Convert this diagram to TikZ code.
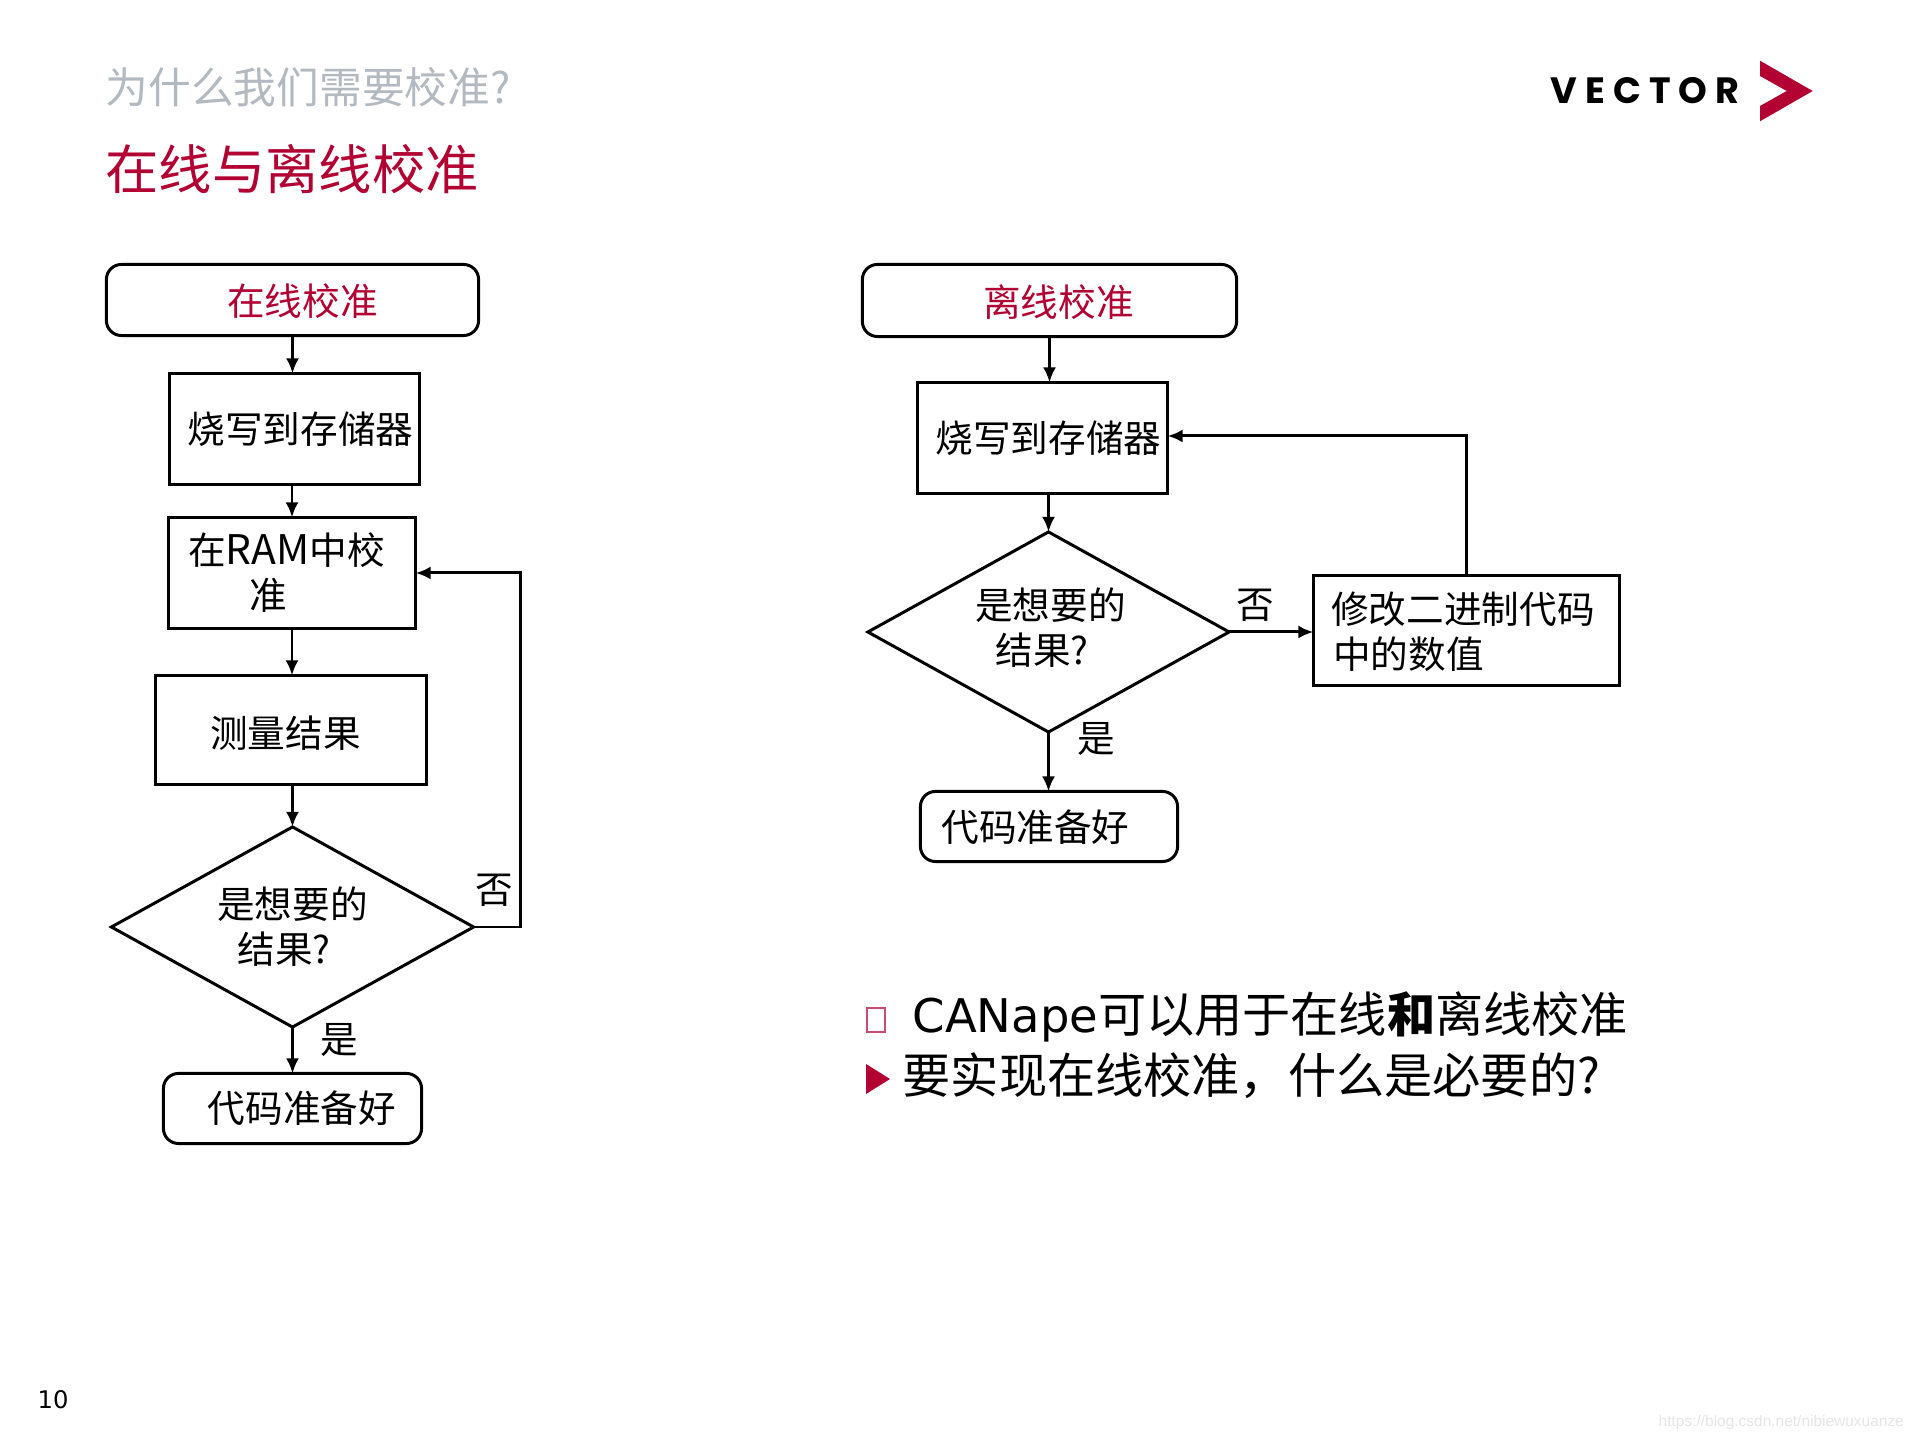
\documentclass[tikz,border=0pt]{standalone}
\usepackage{fontspec}
\usepackage{xcolor}
\usetikzlibrary{arrows.meta,shapes.geometric}
\setmainfont{Noto Sans CJK SC}
\newfontfamily\latinfont{DejaVu Sans}
\newfontfamily\markfont{Liberation Sans}
\newfontfamily\logofont[LetterSpace=22]{Poppins}
\definecolor{vectorred}{HTML}{B20032}
\definecolor{titlegrey}{HTML}{B2B9C0}
\newcommand{\nudge}[1]{\hspace*{#1cm}}
\newcommand{\sink}[1]{\rule{0pt}{#1cm}}
\newcommand{\lift}[1]{\rule[-#1cm]{0pt}{0pt}}
\tikzset{
  flowbox/.style={draw=black,line width=0.85pt,inner sep=0pt,outer sep=0pt,font=\fontsize{10.7}{12.8}\selectfont,align=center},
  startbox/.style={flowbox,rounded corners=0.15cm},
  choicebox/.style={flowbox,diamond,aspect=1.81},
  flowarrow/.style={-{Latex[length=0.15cm,width=0.13cm]},line width=0.85pt},
  choicelabel/.style={inner sep=0pt,font=\fontsize{10.7}{12.8}\selectfont},
  bodytext/.style={inner sep=0pt,anchor=base west,font=\fontsize{13.7}{17}\selectfont}
}
\begin{document}
\begin{tikzpicture}[x=0.01cm,y=-0.01cm]
  \useasboundingbox (0,0) rectangle (1920,1440);
  \node[inner sep=0pt,anchor=base west,titlegrey,font=\fontsize{12.15}{14}\selectfont] (topic) at (105,104) {为什么我们需要校准?};
  \node[inner sep=0pt,anchor=base west,vectorred,font=\fontsize{15.15}{18}\selectfont] (title) at (105,190) {在线与离线校准};
  \node[inner sep=0pt,anchor=base west,font=\logofont\bfseries\fontsize{10.4}{12}\selectfont] (logo) at (1550,104) {VECTOR};
  \fill[vectorred] (1760,60.7) -- (1812.7,91) -- (1760,121.3) -- (1760,106) -- (1786.7,91) -- (1760,76) -- cycle;

  \node[startbox,text=vectorred,minimum width=3.72cm,minimum height=0.71cm] (onlinestart) at (292.5,300) {\sink{0.34}\nudge{0.20}在线校准};
  \node[flowbox,minimum width=2.50cm,minimum height=1.11cm] (onlineburn) at (294.5,429) {\nudge{0.12}烧写到存储器};
  \node[flowbox,minimum width=2.47cm,minimum height=1.11cm] (onlineram) at (292,573) {在{\fontsize{11.6}{12.8}\selectfont RAM}中校\nudge{0.11}\\准\nudge{0.48}};
  \node[flowbox,minimum width=2.71cm,minimum height=1.09cm] (onlinemeasure) at (291,730) {\sink{0.38}测量结果\nudge{0.11}};
  \node[choicebox,minimum width=3.62cm,minimum height=2.00cm] (onlinechoice) at (292.5,927) {是想要的\\结果?\nudge{0.17}};
  \node[startbox,minimum width=2.58cm,minimum height=0.70cm] (onlineready) at (292.5,1108.5) {\nudge{0.19}代码准备好};
  \node[choicelabel] (onlineno) at (494,890) {否};
  \node[choicelabel] (onlineyes) at (339,1040) {是};

  \draw[flowarrow] (onlinestart.south) -- (onlinestart.south |- onlineburn.north);
  \draw[flowarrow] (onlineram.north |- onlineburn.south) -- (onlineram.north);
  \draw[flowarrow] (onlineram.south) -- (onlineram.south |- onlinemeasure.north);
  \draw[flowarrow] (onlinechoice.north |- onlinemeasure.south) -- (onlinechoice.north);
  \draw[flowarrow] (onlinechoice.south) -- (onlinechoice.south |- onlineready.north);
  \draw[flowarrow] (onlinechoice.east) -- ++(47,0) |- (onlineram.east);

  \node[startbox,text=vectorred,minimum width=3.74cm,minimum height=0.72cm] (offlinestart) at (1049.5,300.5) {\sink{0.36}\nudge{0.18}离线校准};
  \node[flowbox,minimum width=2.50cm,minimum height=1.11cm] (offlineburn) at (1042.5,438) {\nudge{0.12}烧写到存储器};
  \node[choicebox,minimum width=3.61cm,minimum height=2.00cm] (offlinechoice) at (1048.5,632) {\nudge{0.04}是想要的\\结果?\nudge{0.13}\lift{0.12}};
  \node[flowbox,align=left,minimum width=3.06cm,minimum height=1.10cm] (offlinechange) at (1466.5,630.5) {\sink{0.34}\nudge{0.01}修改二进制代码\nudge{0.08}\\\nudge{0.03}中的数值\nudge{1.17}};
  \node[startbox,minimum width=2.57cm,minimum height=0.70cm] (offlineready) at (1049,826.5) {\sink{0.34}代码准备好\nudge{0.27}};
  \node[choicelabel] (offlineno) at (1255,605) {否};
  \node[choicelabel] (offlineyes) at (1096,739) {是};

  \draw[flowarrow] (offlinestart.south) -- (offlinestart.south |- offlineburn.north);
  \draw[flowarrow] (offlinechoice.north |- offlineburn.south) -- (offlinechoice.north);
  \draw[flowarrow] (offlinechoice.east) -- (offlinechoice.east -| offlinechange.west);
  \draw[flowarrow] (offlinechange.north) |- ([yshift=0.02cm]offlineburn.east);
  \draw[flowarrow] (offlinechoice.south) -- (offlinechoice.south |- offlineready.north);

  \node[draw=vectorred!70,line width=0.3pt,inner sep=0pt,minimum width=0.18cm,minimum height=0.24cm] (boxmark) at (876,1020) {};
  \node[bodytext] (lineone) at (912,1033) {{\latinfont\fontsize{13.2}{17}\selectfont CANape}可以用于在线{\bfseries 和}离线校准};
  \fill[vectorred] (866,1064) -- (890,1079) -- (866,1094) -- cycle;
  \node[bodytext] (linetwo) at (902,1094) {要实现在线校准，什么是必要的?};

  \node[inner sep=0pt,anchor=base west,font=\latinfont\fontsize{6.9}{8}\selectfont] (pagenum) at (37,1409) {10};
  \node[inner sep=0pt,anchor=base west,black!10,font=\markfont\fontsize{4.4}{6}\selectfont] (webmark) at (1658,1427) {https://blog.csdn.net/nibiewuxuanze};
\end{tikzpicture}
\end{document}
